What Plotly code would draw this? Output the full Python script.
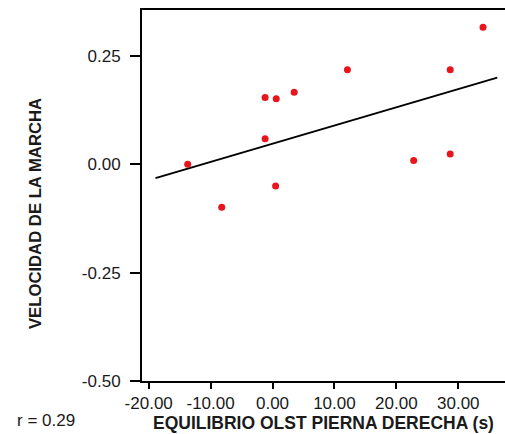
import plotly.graph_objects as go

# Data
equilibrio_x = [-13.7, -8.2, -1.2, 0.6, -1.2, 0.5, 3.5, 12.1, 22.8, 28.7, 28.7, 34.0]
velocidad_y = [0.000, -0.099, 0.154, 0.151, 0.059, -0.050, 0.166, 0.218, 0.009, 0.218, 0.024, 0.316]
fit_x = [-18.9, 36.3]
fit_y = [-0.032, 0.200]
x_ticks = [-20, -10, 0, 10, 20, 30]
x_tick_labels = ["-20.00", "-10.00", "0.00", "10.00", "20.00", "30.00"]
y_ticks = [-0.50, -0.25, 0.00, 0.25]
y_tick_labels = ["-0.50", "-0.25", "0.00", "0.25"]
r_label = "r = 0.29"

FONT = "Liberation Sans, Arial, sans-serif"
TXT = "#1a1a1a"

fig = go.Figure()
fig.add_trace(go.Scatter(x=fit_x, y=fit_y, mode="lines",
                         line=dict(color="black", width=2), hoverinfo="skip",
                         showlegend=False))
fig.add_trace(go.Scatter(x=equilibrio_x, y=velocidad_y, mode="markers",
                         marker=dict(color="#e8161c", size=7, line=dict(width=0)),
                         showlegend=False))

fig.update_layout(
    width=505, height=434,
    margin=dict(l=142, r=0, t=10, b=53),
    paper_bgcolor="white", plot_bgcolor="white",
    font=dict(family=FONT, size=17, color=TXT),
    xaxis=dict(range=[-21.08, 37.55], tickvals=x_ticks, ticktext=x_tick_labels,
               showgrid=False, zeroline=False, showline=True, linecolor="black",
               linewidth=2, mirror=True, ticks="outside", ticklen=6, tickwidth=2,
               tickcolor="black", ticklabelstandoff=0,
               tickfont=dict(family=FONT, size=17, color=TXT)),
    yaxis=dict(range=[-0.5, 0.356], tickvals=y_ticks, ticktext=y_tick_labels,
               showgrid=False, zeroline=False, showline=True, linecolor="black",
               linewidth=2, mirror=False, ticks="outside", ticklen=10, tickwidth=2,
               tickcolor="black", ticklabelstandoff=6,
               tickfont=dict(family=FONT, size=17, color=TXT)),
    annotations=[
        dict(text="<b>EQUILIBRIO OLST PIERNA DERECHA (s)</b>", xref="paper", yref="paper",
             x=0.5, y=-0.0, yshift=-42, xanchor="center", yanchor="middle",
             showarrow=False, font=dict(family=FONT, size=17.5, color=TXT)),
        dict(text="<b>VELOCIDAD DE LA MARCHA</b>", xref="paper", yref="paper",
             x=0, xshift=-107, y=0.45, textangle=-90, xanchor="center", yanchor="middle",
             showarrow=False, font=dict(family=FONT, size=16.7, color=TXT)),
        dict(text=r_label, xref="paper", yref="paper", x=0, xshift=-127, y=0,
             yshift=-39, xanchor="left", yanchor="middle", showarrow=False,
             font=dict(family=FONT, size=17, color=TXT)),
    ],
)

fig.write_html("out.html")
